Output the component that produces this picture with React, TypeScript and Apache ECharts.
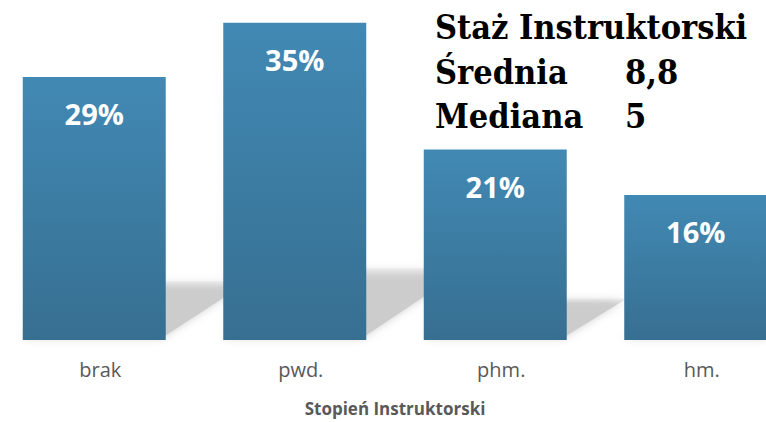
import React, { useEffect, useRef } from "react";
import * as echarts from "echarts";

const categories = ["brak", "pwd.", "phm.", "hm."];
const percentValues = [29, 35, 21, 16];
const axisTitle = "Stopień Instruktorski";
const statsTitle = "Staż Instruktorski";
const statsLabels = ["Średnia", "Mediana"];
const statsValues = ["8,8", "5"];

const SHIFT = 6; // chart canvas starts 6px left of the page

export default function App() {
  const ref = useRef<HTMLDivElement>(null);
  useEffect(() => {
    if (!ref.current) return;
    const chart = echarts.init(ref.current, undefined, { renderer: "svg" });
    const titleFont = "'DejaVu Serif Condensed', 'DejaVu Serif', serif";
    const option: any = {
      animation: false,
      backgroundColor: "#ffffff",
      grid: { left: 0, right: 0, top: 0, bottom: 81, containLabel: false },
      xAxis: {
        type: "category",
        data: categories,
        axisLine: { show: false },
        axisTick: { show: false },
        axisLabel: {
          color: "#595959",
          fontFamily: "'Open Sans', sans-serif",
          fontSize: 20,
          margin: 19,
          padding: [0, 0, 0, 12],
        },
        name: axisTitle,
        nameLocation: "middle",
        nameGap: 60,
        nameTextStyle: {
          color: "#595959",
          fontFamily: "'Open Sans', sans-serif",
          fontSize: 17,
          fontWeight: "bold",
        },
      },
      yAxis: {
        type: "value",
        min: 0,
        max: 37.5,
        show: false,
        splitLine: { show: false },
      },
      graphic: [
        {
          type: "text",
          left: 435 + SHIFT,
          top: 10,
          style: {
            text: statsTitle,
            font: `bold 34px ${titleFont}`,
            fill: "#000",
          },
        },
        ...statsLabels.map((l, i) => ({
          type: "text",
          left: 435 + SHIFT,
          top: 55 + i * 44,
          style: { text: l, font: `bold 34px ${titleFont}`, fill: "#000" },
        })),
        ...statsValues.map((v, i) => ({
          type: "text",
          left: 625 + SHIFT,
          top: 55 + i * 44,
          style: { text: v, font: `bold 34px ${titleFont}`, fill: "#000" },
        })),
      ],
      series: [
        {
          type: "custom",
          z: 1,
          silent: true,
          data: percentValues.map((v, i) => [i, v]),
          renderItem: (params: any, api: any) => {
            const idx = api.value(0);
            const v = api.value(1);
            const top = api.coord([idx, v]);
            const base = api.coord([idx, 0]);
            const bw = api.size([1, 0])[0] * 0.713;
            const x0 = base[0] - bw / 2;
            const x1 = base[0] + bw / 2;
            const h = 0.24 * (base[1] - top[1]);
            const dx = 1.325 * h;
            return {
              type: "polygon",
              shape: {
                points: [
                  [x0, base[1] - 2],
                  [x1 - 4, base[1] - 2],
                  [x1 + dx, base[1] - h + 4],
                  [x0 + dx, base[1] - h + 4],
                ],
              },
              style: {
                fill: new echarts.graphic.LinearGradient(0, 0, 0, 1, [
                  { offset: 0, color: "rgba(204,204,204,0.15)" },
                  { offset: 0.18, color: "rgba(204,204,204,1)" },
                  { offset: 1, color: "rgba(204,204,204,1)" },
                ]),
                shadowBlur: 8,
                shadowColor: "rgba(204,204,204,0.9)",
              },
            };
          },
        },
        {
          type: "bar",
          z: 2,
          data: percentValues,
          barWidth: 143,
          itemStyle: {
            color: new echarts.graphic.LinearGradient(0, 0, 0, 1, [
              { offset: 0, color: "#4189b4" },
              { offset: 1, color: "#376f91" },
            ]),
          },
          label: {
            show: true,
            position: "insideTop",
            distance: 22,
            formatter: "{c}%",
            color: "#ffffff",
            fontFamily: "'Open Sans', sans-serif",
            fontWeight: "bold",
            fontSize: 29,
          },
        },
      ],
    };
    chart.setOption(option);
    return () => chart.dispose();
  }, []);
  return (
    <div
      ref={ref}
      style={{ position: "fixed", left: -SHIFT, top: 0, width: 802, height: 422 }}
    />
  );
}
